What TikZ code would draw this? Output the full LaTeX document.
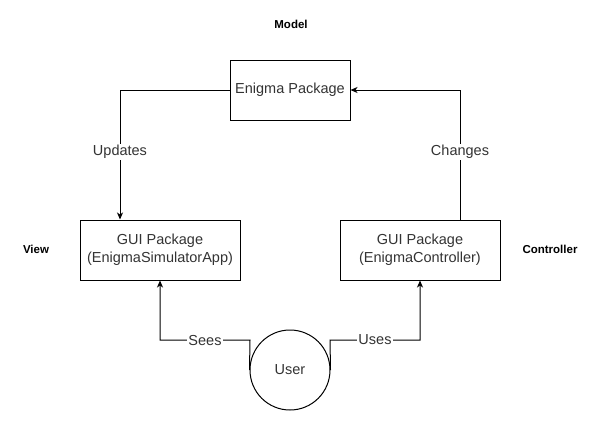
\documentclass[tikz,border=0pt]{standalone}
\usepackage{fontspec}
\setmainfont{Liberation Sans}
\usetikzlibrary{arrows.meta}
\begin{document}
\begin{tikzpicture}[x=1pt,y=-1pt,
  box/.style={draw,line width=1pt,minimum width=#1,minimum height=60pt,inner sep=0pt,align=center,font=\fontsize{14.5}{18}\selectfont,text=black!80},
  tag/.style={font=\bfseries\fontsize{11.5}{13}\selectfont},
  lab/.style={fill=white,inner sep=1pt,font=\fontsize{14.5}{17}\selectfont,text=black!80},
  conn/.style={line width=1pt,-{Stealth[length=7pt,width=6pt,inset=2pt]}}]
\useasboundingbox (0,0) rectangle (601,421);
\node[tag] (model) at (291,24) {Model};
\node[tag] (view) at (36,249) {View};
\node[tag] (ctrl) at (550,249) {Controller};
\node[box=120pt] (enigma) at (290,90) {Enigma Package};
\node[box=160pt] (gv) at (160,250) {GUI Package\\(EnigmaSimulatorApp)};
\node[box=160pt] (gc) at (420,250) {GUI Package\\(EnigmaController)};
\node[draw,circle,line width=1pt,minimum size=80pt,inner sep=0pt,font=\fontsize{14.5}{17}\selectfont,text=black!80] (user) at (290,370) {User};
\coordinate (ul) at (120,90);
\coordinate (cr) at (460,90);
\coordinate (sl) at (250,340);
\coordinate (sc) at (160,340);
\coordinate (us) at (330,340);
\coordinate (uc) at (420,340);
\draw[conn] (enigma.west) -- (ul) -- node[lab,pos=0.48] {Updates} (gv.north -| ul);
\draw[conn] (gc.north -| cr) -- node[lab,pos=0.52] {Changes} (cr) -- (enigma.east);
\draw[conn] (user.west) -- (sl) -- node[lab] {Sees} (sc) -- (gv.south);
\draw[conn] (user.east) -- (us) -- node[lab] {Uses} (uc) -- (gc.south);
\end{tikzpicture}
\end{document}
